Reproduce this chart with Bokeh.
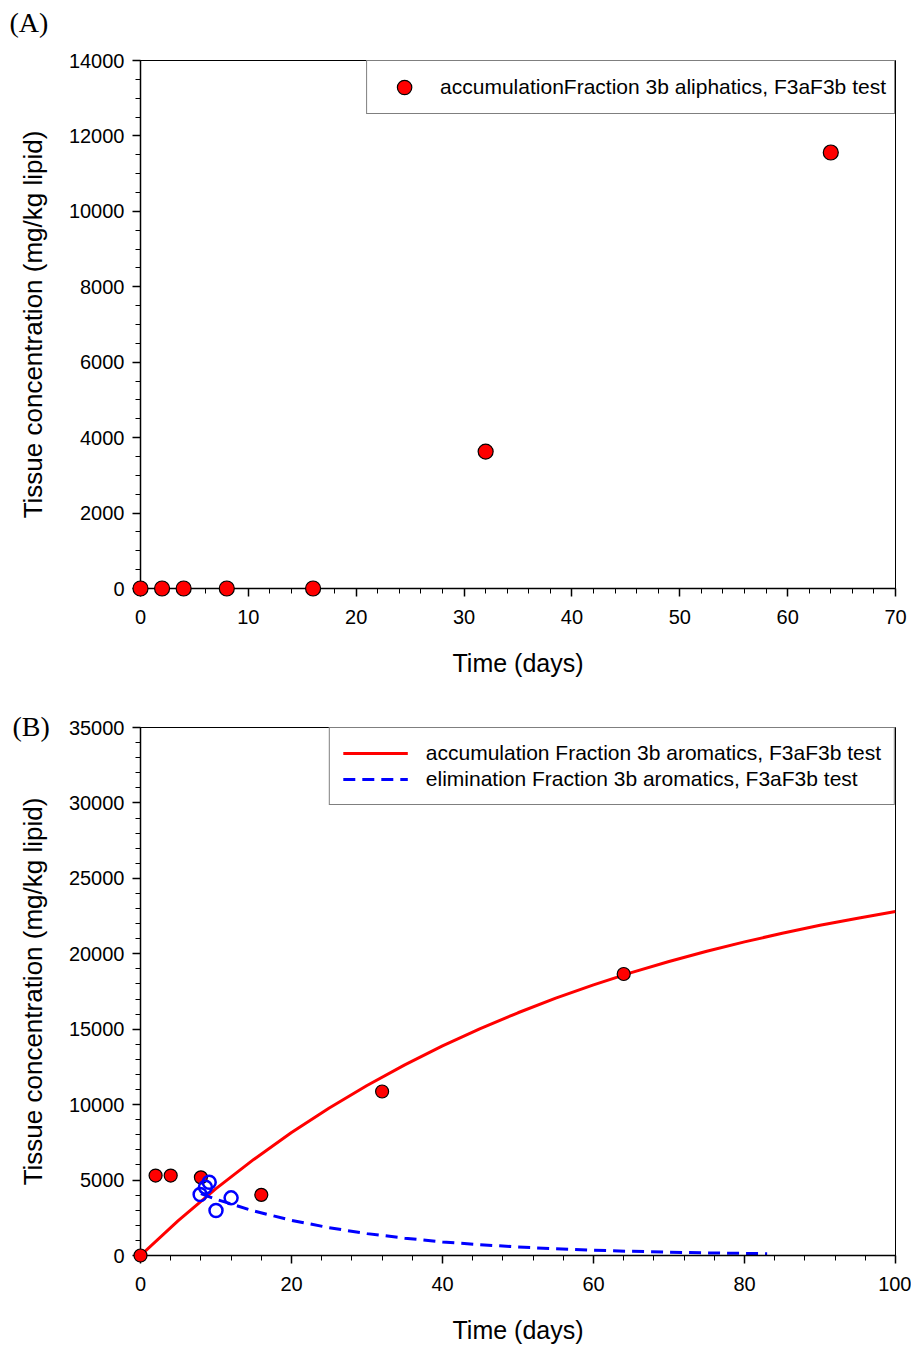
from bokeh.plotting import figure
from bokeh.models import Range1d, SingleIntervalTicker, Legend, LegendItem
from bokeh.core.properties import value
from bokeh.layouts import column
from bokeh.embed import file_html
from bokeh.resources import INLINE

# ---------------- data ----------------
# Panel A: accumulation, Fraction 3b aliphatics
a_days = [0, 2, 4, 8, 16, 32, 64]
a_conc = [0, 0, 0, 0, 0, 3630, 11560]

# Panel B: accumulation, Fraction 3b aromatics (measured)
b_acc_days = [0, 2, 4, 8, 16, 32, 64]
b_acc_conc = [0, 5300, 5300, 5180, 4020, 10870, 18660]

# Panel B: elimination (measured)
b_elim_days = [7.9, 8.6, 9.1, 10, 12]
b_elim_conc = [4040, 4530, 4860, 2980, 3820]

# Panel B: fitted accumulation curve
fit_acc_days = [0, 5, 10, 15, 20, 25, 30, 35, 40, 45, 50, 55, 60, 65, 70, 75, 80, 85, 90, 95, 100]
fit_acc_conc = [0, 2310, 4430, 6370, 8150, 9780, 11270, 12640, 13900, 15040, 16090, 17060,
                17940, 18750, 19490, 20170, 20790, 21360, 21890, 22360, 22800]

# Panel B: fitted elimination curve
fit_elim_days = [8, 10, 15, 20, 25, 30, 35, 40, 45, 50, 55, 60, 65, 70, 75, 80, 83]
fit_elim_conc = [4100, 3730, 2950, 2330, 1840, 1450, 1150, 900, 715, 565, 445, 350, 277, 218, 172, 136, 118]

legend_a = "accumulationFraction 3b aliphatics, F3aF3b test"
legend_b1 = "accumulation Fraction 3b aromatics, F3aF3b test"
legend_b2 = "elimination Fraction 3b aromatics, F3aF3b test"
x_label = "Time (days)"
y_label = "Tissue concentration (mg/kg lipid)"
panel_a_tag = "(A)"
panel_b_tag = "(B)"

FONT = "Liberation Sans"


def style(p, xint, xminor, yint, yminor):
    p.xgrid.visible = False
    p.ygrid.visible = False
    p.outline_line_color = "black"
    p.outline_line_width = 1
    p.xaxis.ticker = SingleIntervalTicker(interval=xint, num_minor_ticks=xminor)
    p.yaxis.ticker = SingleIntervalTicker(interval=yint, num_minor_ticks=yminor)
    for ax in (p.xaxis[0], p.yaxis[0]):
        ax.axis_line_width = 1.5
        ax.axis_line_color = "black"
        ax.major_tick_line_color = "black"
        ax.minor_tick_line_color = "black"
        ax.major_tick_line_width = 1.5
        ax.minor_tick_line_width = 1
        ax.major_tick_in = 0
        ax.major_tick_out = 8
        ax.minor_tick_in = 0
        ax.minor_tick_out = 5
        ax.major_label_text_font = FONT
        ax.major_label_text_font_size = "20px"
        ax.major_label_text_color = "black"
        ax.axis_label_text_font = FONT
        ax.axis_label_text_font_style = "normal"
        ax.axis_label_text_color = "black"
    p.xaxis.axis_label = x_label
    p.yaxis.axis_label = y_label
    p.xaxis.axis_label_text_font_size = "25px"
    p.yaxis.axis_label_text_font_size = "26px"
    p.xaxis.major_label_standoff = 13
    p.xaxis.axis_label_standoff = 22
    p.yaxis.major_label_standoff = 8
    p.yaxis.axis_label_standoff = 18


def legend_style(lg):
    lg.border_line_color = "black"
    lg.border_line_width = 1
    lg.background_fill_alpha = 1
    lg.label_text_font = FONT
    lg.label_text_font_size = "21px"
    lg.label_text_color = "black"
    lg.margin = 0


# ---------------- Panel A ----------------
pA = figure(frame_width=755, frame_height=528, min_border_left=140, min_border_right=16,
            min_border_top=60, min_border_bottom=92,
            x_range=Range1d(0, 70), y_range=Range1d(0, 14000),
            output_backend="svg", toolbar_location=None)
style(pA, 10, 5, 2000, 4)
rA = pA.scatter(a_days, a_conc, size=15, fill_color="#ff0000", line_color="black",
                line_width=1.2, level="overlay")
lgA = Legend(items=[LegendItem(label=legend_a, renderers=[rA])], location="top_right")
legend_style(lgA)
lgA.padding = 8
lgA.glyph_height = 36
lgA.label_height = 36
lgA.glyph_width = 58
lgA.label_standoff = 7
pA.add_layout(lgA)
pA.text(x=[-12.15], y=[15008], text=[panel_a_tag], text_baseline="middle", text_align="left",
        text_font=value("Liberation Serif"), text_font_size="28px", text_color="black",
        level="overlay")

# ---------------- Panel B ----------------
pB = figure(frame_width=755, frame_height=528, min_border_left=140, min_border_right=16,
            min_border_top=47, min_border_bottom=92,
            x_range=Range1d(0, 100), y_range=Range1d(0, 35000),
            output_backend="svg", toolbar_location=None)
style(pB, 20, 5, 5000, 5)
lr = pB.line(fit_acc_days, fit_acc_conc, line_color="#ff0000", line_width=3)
lb = pB.line(fit_elim_days, fit_elim_conc, line_color="#0000ff", line_width=3, line_dash="12 7")
pB.scatter(b_acc_days, b_acc_conc, size=13, fill_color="#ff0000", line_color="black",
           line_width=1.2, level="overlay")
pB.scatter(b_elim_days, b_elim_conc, size=13, fill_alpha=0, line_color="#0000ff",
           line_width=2.5, level="overlay")
lgB = Legend(items=[LegendItem(label=legend_b1, renderers=[lr]),
                    LegendItem(label=legend_b2, renderers=[lb])], location="top_right")
legend_style(lgB)
lgB.padding = 13
lgB.spacing = 2
lgB.label_height = 20
lgB.glyph_height = 20
lgB.glyph_width = 65
lgB.label_standoff = 18
pB.add_layout(lgB)
pB.text(x=[-16.95], y=[35066], text=[panel_b_tag], text_baseline="middle", text_align="left",
        text_font=value("Liberation Serif"), text_font_size="28px", text_color="black",
        level="overlay")

layout = column(pA, pB, spacing=0)
open("out.html", "w").write(file_html(layout, INLINE))
